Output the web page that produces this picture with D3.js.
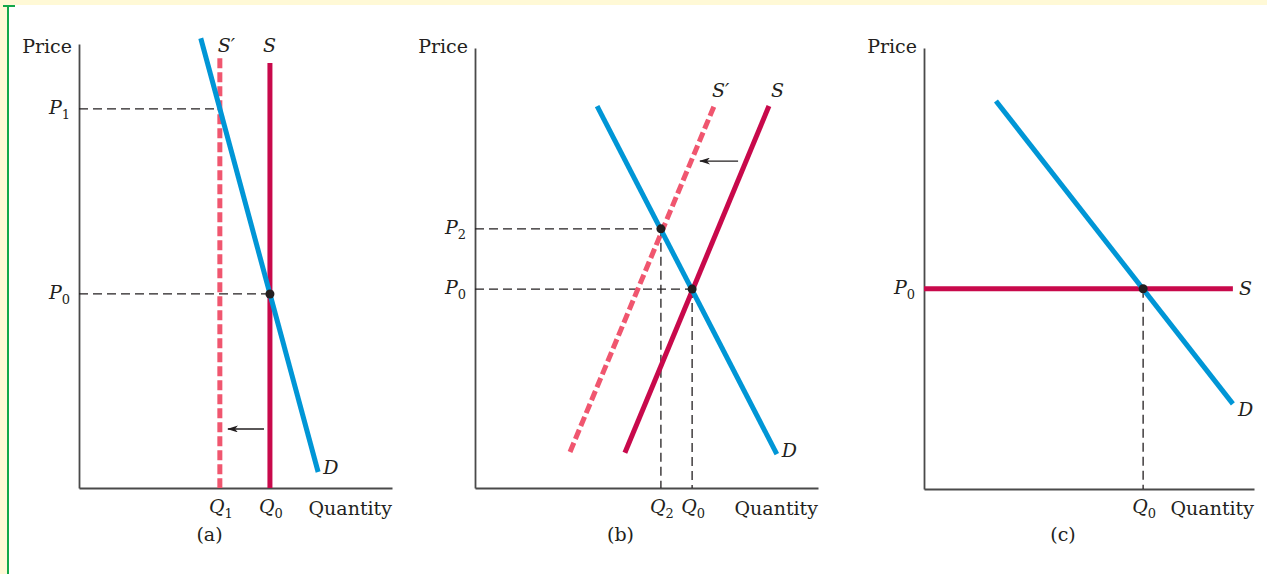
<!DOCTYPE html>
<html>
<head>
<meta charset="utf-8">
<script src="https://cdn.jsdelivr.net/npm/d3@7"></script>
<style>
  body { margin: 0; background: #fff; }
  svg { display: block; }
  text { font-family: "DejaVu Serif", "Liberation Serif", serif; fill: #231f20; }
</style>
</head>
<body>
<svg id="chart" width="1267" height="574"></svg>
<script>
// all values in chart units, both axes run 0..10

// (a) perfectly inelastic supply shifts left
var aDemand = [[3.89, 10.13], [7.64, 0.36]];
var aSupply = [[6.1, 9.57], [6.1, 0]];
var aSupplyShift = [[4.5, 9.68], [4.5, 0]];
var aPrices = [{ sub: "1", q: 4.5, p: 8.54 }, { sub: "0", q: 6.1, p: 4.37 }];
var aQuantities = [{ sub: "1", q: 4.5 }, { sub: "0", q: 6.1 }];
var aDots = [[6.1, 4.37]];
var aArrow = [[5.91, 1.33], [4.76, 1.33]];

// (b) upward sloping supply shifts left
var bDemand = [[3.56, 8.68], [8.80, 0.77]];
var bSupply = [[4.37, 0.80], [8.57, 8.68]];
var bSupplyShift = [[2.77, 0.82], [6.97, 8.68]];
var bPrices = [{ sub: "2", q: 5.42, p: 5.89 }, { sub: "0", q: 6.33, p: 4.52 }];
var bQuantities = [{ sub: "2", q: 5.42 }, { sub: "0", q: 6.33 }];
var bDots = [[5.42, 5.89], [6.33, 4.52]];
var bArrow = [[7.67, 7.43], [6.56, 7.43]];

// (c) perfectly elastic supply
var cDemand = [[2.18, 8.80], [9.36, 1.93]];
var cSupply = [[0, 4.54], [9.36, 4.54]];
var cPrices = [{ sub: "0", q: 6.64, p: 4.54 }];
var cQuantities = [{ sub: "0", q: 6.64 }];
var cDots = [[6.64, 4.54]];

var blue = "#0096d6";
var crimson = "#c8094b";
var pink = "#f0566f";
var ink = "#231f20";
var axisColor = "#4a4a4a";
var fontSize = 19;

var svg = d3.select("#chart");

// page frame: pale strip on top and left, green rule
svg.append("rect").attr("x", 0).attr("y", 0).attr("width", 1267).attr("height", 5).attr("fill", "#fff9d6");
svg.append("rect").attr("x", 0).attr("y", 0).attr("width", 7).attr("height", 574).attr("fill", "#fff9d6");
svg.append("rect").attr("x", 7).attr("y", 5).attr("width", 2).attr("height", 569).attr("fill", "#13a84a");
svg.append("rect").attr("x", 3).attr("y", 5).attr("width", 12).attr("height", 2).attr("fill", "#13a84a");

var defs = svg.append("defs");
defs.append("marker")
    .attr("id", "head")
    .attr("viewBox", "0 0 11 7")
    .attr("refX", 10).attr("refY", 3.5)
    .attr("markerWidth", 11).attr("markerHeight", 7)
    .attr("markerUnits", "userSpaceOnUse")
    .attr("orient", "auto")
    .append("path")
    .attr("d", "M11,3.5L0,0L3,3.5L0,7Z")
    .attr("fill", ink);

function subLabel(sel, letter, sub) {
  sel.append("tspan").attr("font-style", "italic").attr("font-size", fontSize).text(letter);
  sel.append("tspan").attr("font-size", 13).attr("dy", 5).text(sub);
}

function drawPanel(cfg) {
  var x = d3.scaleLinear().domain([0, 10]).range(cfg.xRange);
  var y = d3.scaleLinear().domain([0, 10]).range(cfg.yRange);
  var line = d3.line().x(function(d) { return x(d[0]); }).y(function(d) { return y(d[1]); });
  var g = svg.append("g");

  // axes, just the domain lines
  g.append("g")
      .attr("transform", "translate(0," + y(0) + ")")
      .call(d3.axisBottom(x).tickValues([]).tickSizeOuter(0))
      .select(".domain").attr("stroke", axisColor).attr("stroke-width", 1.8);
  g.append("g")
      .attr("transform", "translate(" + x(0) + ",0)")
      .call(d3.axisLeft(y).tickValues([]).tickSizeOuter(0))
      .select(".domain").attr("stroke", axisColor).attr("stroke-width", 1.8);

  g.append("text").attr("x", x(0) - 7).attr("y", 53)
      .attr("text-anchor", "end").attr("font-size", fontSize).text("Price");
  g.append("text").attr("x", x(10)).attr("y", 515)
      .attr("text-anchor", "end").attr("font-size", fontSize).text("Quantity");
  g.append("text").attr("x", (x(0) + x(10)) / 2 - 26).attr("y", 541)
      .attr("text-anchor", "middle").attr("font-size", fontSize).text(cfg.name);

  // dashed guides
  cfg.prices.forEach(function(d) {
    if (cfg.hGuides) {
      g.append("line").attr("x1", x(0)).attr("x2", x(d.q)).attr("y1", y(d.p)).attr("y2", y(d.p))
          .attr("stroke", ink).attr("stroke-width", 1.3).attr("stroke-dasharray", "9,5");
    }
    if (cfg.vGuides) {
      g.append("line").attr("x1", x(d.q)).attr("x2", x(d.q)).attr("y1", y(d.p)).attr("y2", y(0))
          .attr("stroke", ink).attr("stroke-width", 1.3).attr("stroke-dasharray", "9,5");
    }
    g.append("text").attr("x", x(0) - 9).attr("y", y(d.p) + 5)
        .attr("text-anchor", "end").call(subLabel, "P", d.sub);
  });

  cfg.quantities.forEach(function(d) {
    g.append("text").attr("x", x(d.q) + 1).attr("y", 513)
        .attr("text-anchor", "middle").call(subLabel, "Q", d.sub);
  });

  if (cfg.shift) {
    g.append("path").datum(cfg.shift).attr("d", line).attr("fill", "none")
        .attr("stroke", pink).attr("stroke-width", 5).attr("stroke-dasharray", "10,4");
  }
  g.append("path").datum(cfg.supply).attr("d", line).attr("fill", "none")
      .attr("stroke", crimson).attr("stroke-width", 5);
  g.append("path").datum(cfg.demand).attr("d", line).attr("fill", "none")
      .attr("stroke", blue).attr("stroke-width", 5);

  g.selectAll("circle.eq").data(cfg.dots).enter().append("circle")
      .attr("cx", function(d) { return x(d[0]); })
      .attr("cy", function(d) { return y(d[1]); })
      .attr("r", 4.5).attr("fill", ink);

  if (cfg.arrow) {
    g.append("path").datum(cfg.arrow).attr("d", line).attr("fill", "none")
        .attr("stroke", ink).attr("stroke-width", 1.4).attr("marker-end", "url(#head)");
  }

  // curve labels, placed from the line ends
  cfg.labels.forEach(function(l) {
    var pt = l.at;
    g.append("text").attr("x", x(pt[0]) + l.dx).attr("y", y(pt[1]) + l.dy)
        .attr("font-style", "italic").attr("font-size", fontSize).text(l.text);
  });
}

drawPanel({
  name: "(a)", xRange: [79, 392], yRange: [488, 44],
  demand: aDemand, supply: aSupply, shift: aSupplyShift,
  prices: aPrices, quantities: aQuantities, dots: aDots, arrow: aArrow,
  hGuides: true, vGuides: false,
  labels: [
    { text: "S\u2032", at: aSupplyShift[0], dx: -2, dy: -6 },
    { text: "S", at: aSupply[0], dx: -7, dy: -11 },
    { text: "D", at: aDemand[1], dx: 5, dy: 2 }
  ]
});

drawPanel({
  name: "(b)", xRange: [475, 818], yRange: [488, 48],
  demand: bDemand, supply: bSupply, shift: bSupplyShift,
  prices: bPrices, quantities: bQuantities, dots: bDots, arrow: bArrow,
  hGuides: true, vGuides: true,
  labels: [
    { text: "S\u2032", at: bSupplyShift[1], dx: -2, dy: -9 },
    { text: "S", at: bSupply[1], dx: 2, dy: -9 },
    { text: "D", at: bDemand[1], dx: 5, dy: 3 }
  ]
});

drawPanel({
  name: "(c)", xRange: [924, 1254], yRange: [489, 48],
  demand: cDemand, supply: cSupply, shift: null,
  prices: cPrices, quantities: cQuantities, dots: cDots, arrow: null,
  hGuides: false, vGuides: true,
  labels: [
    { text: "S", at: cSupply[1], dx: 6, dy: 6 },
    { text: "D", at: cDemand[1], dx: 5, dy: 12 }
  ]
});
</script>
</body>
</html>
